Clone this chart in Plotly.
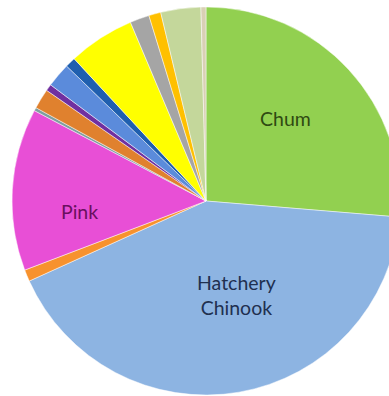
import plotly.graph_objects as go

labels = ["Chum", "Hatchery Chinook", "Other 1", "Pink", "Other 2", "Other 3",
          "Other 4", "Other 5", "Other 6", "Other 7", "Other 8", "Other 9",
          "Other 10", "Other 11"]
values = [94.7, 150.8, 3.5, 48.6, 1.0, 6.0, 2.0, 7.3, 3.1, 19.9, 5.8, 3.6, 12.0, 1.5]
colors = ["#92D050", "#8DB4E2", "#F7922E", "#E84FD6", "#7F9FA0", "#E0812E",
          "#7030A0", "#5B8BDB", "#1F5FAF", "#FFFF00", "#A5A5A5", "#FFC000",
          "#C4D79B", "#D9D0B5"]
shown_labels = {"Chum": ("Chum", 0.692, 0.702, "#2F4A12"),
                "Hatchery Chinook": ("Hatchery<br>Chinook", 0.575, 0.255, "#1F3050"),
                "Pink": ("Pink", 0.192, 0.467, "#6A1060")}

fig = go.Figure(go.Pie(
    labels=labels, values=values, sort=False, direction="clockwise",
    marker=dict(colors=colors, line=dict(color="rgba(255,255,255,0.6)", width=0.8)),
    textinfo="none", hoverinfo="label+percent", showlegend=False,
    domain=dict(x=[0, 1], y=[1/396, 389/396]),
))

for lab in labels:
    if lab in shown_labels:
        txt, x, y, col = shown_labels[lab]
        fig.add_annotation(text=txt, x=x, y=y, xref="paper", yref="paper",
                           xanchor="center", yanchor="middle",
                           showarrow=False, font=dict(family="Lato, Open Sans, sans-serif", size=19.5, color=col))

fig.update_layout(width=412, height=396, margin=dict(l=0, r=0, t=0, b=0),
                  paper_bgcolor="white", plot_bgcolor="white")

fig.write_html("out.html", config={"displayModeBar": False},
               post_script="document.documentElement.style.overflow='hidden';document.body.style.margin='0';document.body.style.overflow='hidden';")
